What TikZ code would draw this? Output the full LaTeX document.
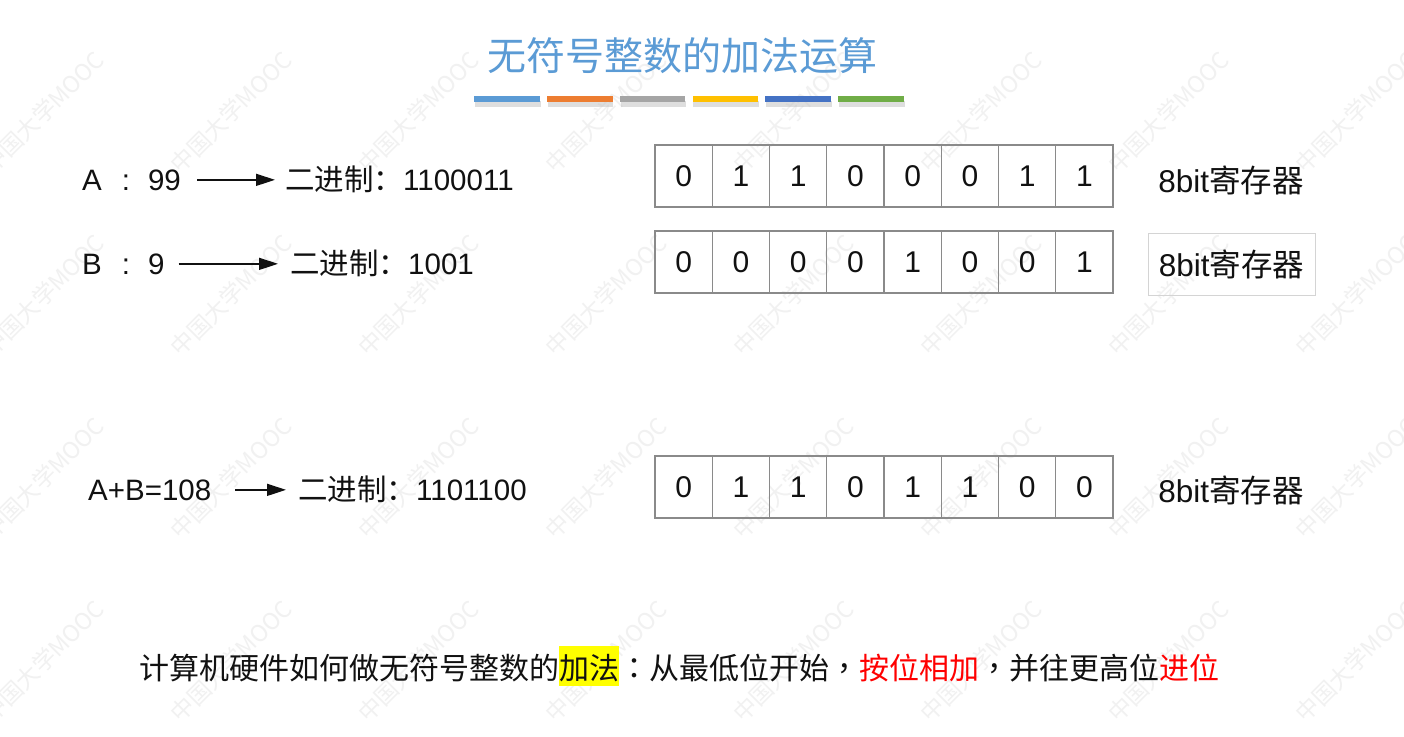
\documentclass[tikz,border=0pt]{standalone}
\usepackage{fontspec}
\setmainfont{Liberation Sans}
\newfontfamily\cjk{Noto Sans CJK SC}
\newfontfamily\cjktc{Noto Sans CJK TC}
\usetikzlibrary{arrows.meta}
\definecolor{titleblue}{HTML}{5B9BD5}
\definecolor{barA}{HTML}{5B9BD5}
\definecolor{barB}{HTML}{ED7D31}
\definecolor{barC}{HTML}{A5A5A5}
\definecolor{barD}{HTML}{FFC000}
\definecolor{barE}{HTML}{4472C4}
\definecolor{barF}{HTML}{70AD47}
\definecolor{cellgray}{HTML}{8A8A8A}
\definecolor{boxgray}{HTML}{D4D4D4}
\definecolor{hlyellow}{HTML}{FFFF00}
\definecolor{txtred}{HTML}{FF0000}
\definecolor{wmgray}{HTML}{F1F1F1}
\definecolor{ink}{HTML}{111111}
\begin{document}
\begin{tikzpicture}[x=1pt,y=-1pt,
  lbl/.style={font=\fontsize{29.5}{35}\selectfont, text=ink, inner sep=0pt, anchor=base west},
  cell/.style={draw=cellgray, line width=1.2pt, minimum width=57.25pt, minimum height=62pt,
               inner sep=0pt, font=\fontsize{30}{34}\selectfont, text=ink},
  reglbl/.style={font=\fontsize{31.5}{37}\selectfont, text=ink, inner sep=0pt},
  arr/.style={-{Triangle[length=19pt,width=12pt]}, line width=1.5pt, draw=ink},
  wm/.style={font=\cjk\fontsize{23}{26}\selectfont, text=wmgray, inner sep=0pt},
  bar/.style={minimum width=65.5pt, minimum height=6pt, inner sep=0pt}
]
\useasboundingbox (0,0) rectangle (1404,736);
\fill[white] (0,0) rectangle (1404,736);

% watermarks
\foreach \k in {0,...,7}{
  \foreach \j in {0,...,3}{
    \node[wm, rotate=45] at ({43.5+187.5*\k},{112+183*\j}) {中国大学MOOC};
  }
}

% title
\node[font=\cjk\fontsize{39}{46}\selectfont, text=titleblue, inner sep=0pt] (title) at (682,56) {无符号整数的加法运算};

% colour bars
\foreach \c [count=\i] in {barA,barB,barC,barD,barE,barF}{
  \fill[black!25, opacity=0.5] ({474+72.8*(\i-1)+1},100.5) rectangle ++(65.5,6);
  \node[bar, fill=\c, anchor=north west] (bar\i) at ({474+72.8*(\i-1)},96) {};
}

% row A
\node[lbl] (a1) at (82,190) {A\hspace{20pt}:\hspace{18pt}99};
\node[lbl] (b1) at (285,190) {{\cjk 二进制：}1100011};
\draw[arr] ([xshift=16pt]a1.east) -- ([xshift=-10pt]a1.east -| b1.west);

% row B
\node[lbl] (a2) at (82,274) {B\hspace{20pt}:\hspace{18pt}9};
\node[lbl] (b2) at (290,274) {{\cjk 二进制：}1001};
\draw[arr] ([xshift=14pt]a2.east) -- ([xshift=-12pt]a2.east -| b2.west);

% row sum
\node[lbl] (a3) at (88,500) {A+B=108};
\node[lbl] (b3) at (298,500) {{\cjk 二进制：}1101100};
\draw[arr] ([xshift=24pt]a3.east) -- ([xshift=-12pt]a3.east -| b3.west);

% registers
\foreach \b [count=\i] in {0,1,1,0,0,0,1,1}
  \node[cell] (ra\i) at ({655+57.25*(\i-0.5)},176) {\b};
\foreach \b [count=\i] in {0,0,0,0,1,0,0,1}
  \node[cell] (rb\i) at ({655+57.25*(\i-0.5)},262) {\b};
\foreach \b [count=\i] in {0,1,1,0,1,1,0,0}
  \node[cell] (rc\i) at ({655+57.25*(\i-0.5)},487) {\b};

\node[reglbl] (la) at (1231,180) {8bit{\cjk 寄存器}};
\node[reglbl, draw=boxgray, line width=1pt, minimum width=167pt, minimum height=62pt] (lb) at (1231.5,264) {8bit{\cjk 寄存器}};
\node[reglbl] (lc) at (1231,490) {8bit{\cjk 寄存器}};

% bottom note
\setlength{\fboxsep}{0pt}
\node[font=\cjk\fontsize{30}{36}\selectfont, text=ink, inner sep=0pt, anchor=base] (note) at (679,679)
 {计算机硬件如何做无符号整数的\colorbox{hlyellow}{\rule[-0.22em]{0pt}{1.32em}加法}{\cjktc ：}从最低位开始{\cjktc ，}\textcolor{txtred}{按位相加}{\cjktc ，}并往更高位\textcolor{txtred}{进位}};
\end{tikzpicture}
\end{document}
